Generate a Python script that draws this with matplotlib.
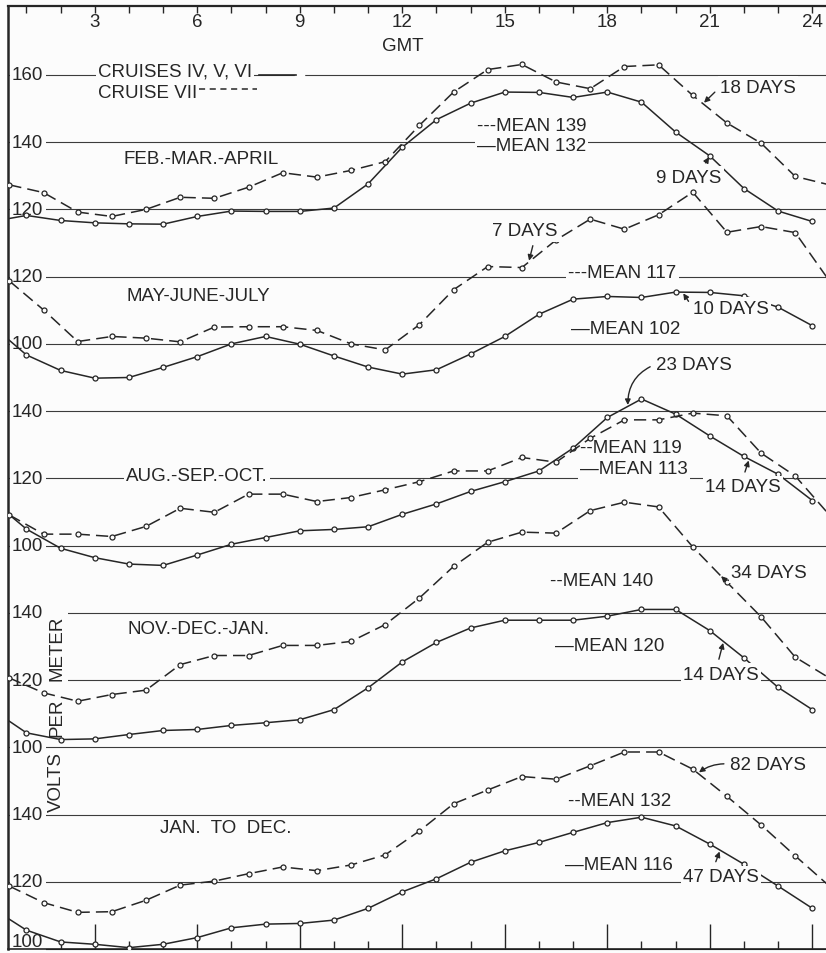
import numpy as np
import matplotlib.pyplot as plt
from matplotlib import font_manager

# Hourly mean potential gradient (volts per meter) by season.
# Cruises IV, V, VI are averaged on the hour, cruise VII on the half hour.
hours_456 = np.arange(0, 24)
hours_7 = np.arange(0, 24) + 0.5

feb_apr_456 = [116.4, 118.2, 116.7, 116.0, 115.7, 115.6, 117.9, 119.5, 119.4, 119.4, 120.4, 127.6,
               138.5, 146.7, 151.6, 154.9, 154.8, 153.3, 154.9, 151.9, 143.0, 135.9, 126.2, 119.5]
feb_apr_7 = [127.3, 125.0, 119.2, 117.9, 120.0, 123.6, 123.3, 126.6, 130.9, 129.6, 131.6, 134.2,
             145.0, 154.9, 161.6, 163.1, 157.9, 155.9, 162.5, 163.0, 153.9, 145.7, 139.7, 129.8]

may_jul_456 = [105.4, 96.7, 92.1, 89.8, 90.0, 93.0, 96.2, 100.0, 102.2, 99.9, 96.4, 93.1,
               91.0, 92.3, 97.0, 102.2, 108.8, 113.3, 114.1, 113.8, 115.4, 115.3, 114.3, 110.9]
may_jul_7 = [118.7, 110.1, 100.7, 102.2, 101.7, 100.6, 105.0, 105.1, 105.1, 104.0, 100.0, 98.2,
             105.7, 116.1, 123.0, 122.7, 130.9, 137.1, 134.1, 138.4, 145.1, 133.2, 134.9, 133.1]

aug_oct_456 = [113.4, 104.9, 99.2, 96.4, 94.5, 94.1, 97.2, 100.4, 102.4, 104.4, 104.8, 105.6,
               109.3, 112.4, 116.1, 119.0, 122.2, 129.0, 138.1, 143.6, 139.1, 132.6, 126.5, 121.2]
aug_oct_7 = [109.1, 103.4, 103.4, 102.7, 105.7, 111.1, 109.9, 115.3, 115.3, 113.1, 114.3, 116.6,
             119.0, 122.2, 122.2, 126.2, 124.8, 131.9, 137.4, 137.4, 139.4, 138.6, 127.5, 120.7]

nov_jan_456 = [111.2, 104.3, 102.3, 102.5, 103.8, 105.0, 105.3, 106.5, 107.3, 108.2, 111.2, 117.7,
               125.4, 131.2, 135.5, 137.8, 137.8, 137.8, 139.0, 141.0, 141.0, 134.7, 126.6, 117.8]
nov_jan_7 = [120.6, 116.2, 113.7, 115.7, 117.0, 124.6, 127.3, 127.3, 130.3, 130.3, 131.5, 136.5,
             144.4, 153.8, 161.0, 164.0, 163.7, 170.4, 172.9, 171.5, 159.6, 149.1, 138.8, 126.8]

year_456 = [112.1, 105.6, 102.1, 101.4, 100.4, 101.4, 103.4, 106.3, 107.4, 107.6, 108.6, 112.1,
            117.0, 120.9, 125.8, 129.2, 131.7, 134.7, 137.6, 139.2, 136.6, 131.2, 125.2, 118.7]
year_7 = [118.7, 113.8, 110.9, 111.1, 114.5, 119.0, 120.2, 122.4, 124.4, 123.3, 125.0, 128.0,
          135.1, 143.2, 147.3, 151.3, 150.5, 154.5, 158.6, 158.6, 153.5, 145.4, 136.9, 127.7]

seasons = ["FEB.-MAR.-APRIL", "MAY-JUNE-JULY", "AUG.-SEP.-OCT.", "NOV.-DEC.-JAN.", "JAN.  TO  DEC."]
means_456 = [132, 102, 113, 120, 116]
means_7 = [139, 117, 119, 140, 132]
days_456 = [9, 10, 23, 14, 47]
days_7 = [18, 7, 14, 34, 82]
panel_ticks = [[120, 140, 160], [100, 120], [100, 120, 140], [100, 120, 140], [100, 120, 140]]
hour_labels = [3, 6, 9, 12, 15, 18, 21, 24]

solid = [feb_apr_456, may_jul_456, aug_oct_456, nov_jan_456, year_456]
dashed = [feb_apr_7, may_jul_7, aug_oct_7, nov_jan_7, year_7]

# each season is shifted onto one common scale
offsets = [100, 80, 20, -40, -100]

installed = {f.name for f in font_manager.fontManager.ttflist}
for fam in ['Liberation Sans Narrow', 'Liberation Sans', 'DejaVu Sans']:
    if fam in installed:
        plt.rcParams['font.family'] = fam
        break

INK = '#262626'
GRID = '#3c3c3c'
PAPER = '#fcfcfc'
FS = 13.5
DASH = (0, (8, 4))


def wrap(hours, vals):
    # the day is periodic, so repeat the first hour after the last
    return np.append(hours, hours[0] + 24), np.append(vals, vals[0])


def curve_at(k, which, hour):
    hrs, vals = wrap(hours_456, solid[k]) if which == 'solid' else wrap(hours_7, dashed[k])
    return np.interp(hour, hrs, vals) + offsets[k]


fig = plt.figure(figsize=(8.26, 9.54), dpi=100, facecolor=PAPER)
ax = fig.add_axes([8 / 826, 4 / 954, 1 - 8 / 826, 943 / 954], facecolor=PAPER)
ax.set_xlim(0.46, 24.4)
ax.set_ylim(0, 280.5)

box = dict(boxstyle='square,pad=0.12', fc=PAPER, ec='none')

for k in range(5):
    off = offsets[k]
    for t in panel_ticks[k]:
        ax.axhline(t + off, color=GRID, lw=0.8, zorder=1)
        # the lowest label sits on the bottom edge; lift it just clear
        ty = max(t + off, 2.2)
        ax.text(0.58, ty, str(t), fontsize=FS, color=INK, ha='left', va='center',
                bbox=box, zorder=2, clip_on=False)

    h, v = wrap(hours_456, solid[k])
    ax.plot(h, np.array(v) + off, color=INK, lw=1.1, marker='o', ms=3.6, mfc=PAPER,
            mec=INK, mew=0.9, zorder=4)
    h, v = wrap(hours_7, dashed[k])
    ax.plot(h, np.array(v) + off, color=INK, lw=1.1, ls=DASH, marker='o', ms=3.6, mfc=PAPER,
            mec=INK, mew=0.9, zorder=4)

# season names
season_pos = [(6.12, 135.0), (6.02, 114.5), (6.0, 120.7), (6.04, 135.2), (6.82, 136.0)]
for k, (hx, val) in enumerate(season_pos):
    ax.text(hx, val + offsets[k], seasons[k], fontsize=FS, color=INK, ha='center', va='center',
            bbox=box, zorder=2)

# means of each cruise group
mean_pos = [((14.18, 145.1), (14.18, 139.0)),
            ((16.86, 121.3), (16.95, 104.6)),
            ((17.2, 129.2), (17.2, 122.8)),
            ((16.33, 149.6), (16.48, 130.4)),
            ((16.86, 144.1), (16.77, 125.0))]
dash_keys = ["---", "---", "--", "--", "--"]
for k, (p7, p456) in enumerate(mean_pos):
    ax.text(p7[0], p7[1] + offsets[k], f"{dash_keys[k]}MEAN {means_7[k]}", fontsize=FS, color=INK,
            ha='left', va='center', bbox=box, zorder=2)
    ax.text(p456[0], p456[1] + offsets[k], f"\u2014MEAN {means_456[k]}", fontsize=FS, color=INK,
            ha='left', va='center', bbox=box, zorder=2)


def days_note(k, which, days, tip_hour, xy_text, relpos, rad=0.0):
    tip = (tip_hour, curve_at(k, which, tip_hour))
    ax.annotate(f"{days} DAYS", xy=tip, xytext=(xy_text[0], xy_text[1] + offsets[k]),
                fontsize=FS, color=INK, ha='left', va='center', bbox=box, zorder=5,
                arrowprops=dict(arrowstyle='-|>', color=INK, lw=1.0, mutation_scale=8,
                                relpos=relpos, shrinkA=3, shrinkB=1,
                                connectionstyle=f'arc3,rad={rad}'))


days_note(0, 'dashed', days_7[0], 20.8, (21.3, 156.4), (0, 0.5))
days_note(0, 'solid', days_456[0], 21.0, (19.43, 129.6), (0.7, 1.0))
days_note(1, 'dashed', days_7[1], 15.7, (14.62, 133.6), (0.65, 0.0))
days_note(1, 'solid', days_456[1], 20.2, (20.51, 110.6), (0, 0.5))
days_note(2, 'solid', days_456[2], 18.6, (19.43, 154.0), (0, 0.5), rad=0.35)
days_note(2, 'solid', days_7[2], 22.15, (20.86, 117.5), (0.5, 1.0))
days_note(3, 'dashed', days_7[3], 21.3, (21.62, 152.0), (0, 0.5), rad=-0.9)
days_note(3, 'solid', days_456[3], 21.4, (20.22, 121.8), (0.45, 1.0))
days_note(4, 'dashed', days_7[4], 20.65, (21.6, 155.0), (0, 0.5), rad=0.2)
days_note(4, 'solid', days_456[4], 21.3, (20.22, 121.6), (0.4, 1.0))

# key
ax.text(3.09, 261.2, "CRUISES IV, V, VI", fontsize=FS, color=INK, ha='left', va='center',
        bbox=box, zorder=2)
ax.plot([7.8, 8.9], [260, 260], color=INK, lw=1.2, zorder=3)
ax.plot([8.9, 9.1], [260, 260], color=PAPER, lw=2.5, zorder=2)
ax.text(3.09, 254.9, "CRUISE VII", fontsize=FS, color=INK, ha='left', va='center', zorder=2)
ax.plot([6.05, 7.75], [255.9, 255.9], color=INK, lw=1.1, ls=(0, (4, 3)), zorder=3)

# hour scale along the top
for hr in hour_labels:
    ax.text(hr, 275.8, str(hr), fontsize=FS, color=INK, ha='center', va='center')
ax.text(12, 268.8, "GMT", fontsize=FS, color=INK, ha='center', va='center')

for word, g in [("METER", 89.8), ("PER", 69.0), ("VOLTS", 50.0)]:
    ax.text(1.89, g, word, fontsize=FS, color=INK, rotation=90, ha='center', va='center',
            bbox=box, zorder=2)

ax.set_xticks(range(1, 25))
ax.set_yticks([])
ax.tick_params(axis='x', top=True, bottom=False, labeltop=False, labelbottom=False,
               direction='in', length=5, width=1.0, color=INK)

bot = ax.secondary_xaxis('bottom')
bot.set_xticks(hour_labels)
bot.set_xticks(range(1, 25), minor=True)
bot.tick_params(which='major', direction='in', length=18, width=1.0, color=INK, labelbottom=False)
bot.tick_params(which='minor', direction='in', length=6, width=1.0, color=INK)

ax.spines['right'].set_visible(False)
ax.spines['left'].set_linewidth(1.8)
ax.spines['top'].set_linewidth(1.6)
ax.spines['bottom'].set_linewidth(1.2)
for s in ax.spines.values():
    s.set_color(INK)

fig.savefig('out.png', dpi=100, facecolor=PAPER)
